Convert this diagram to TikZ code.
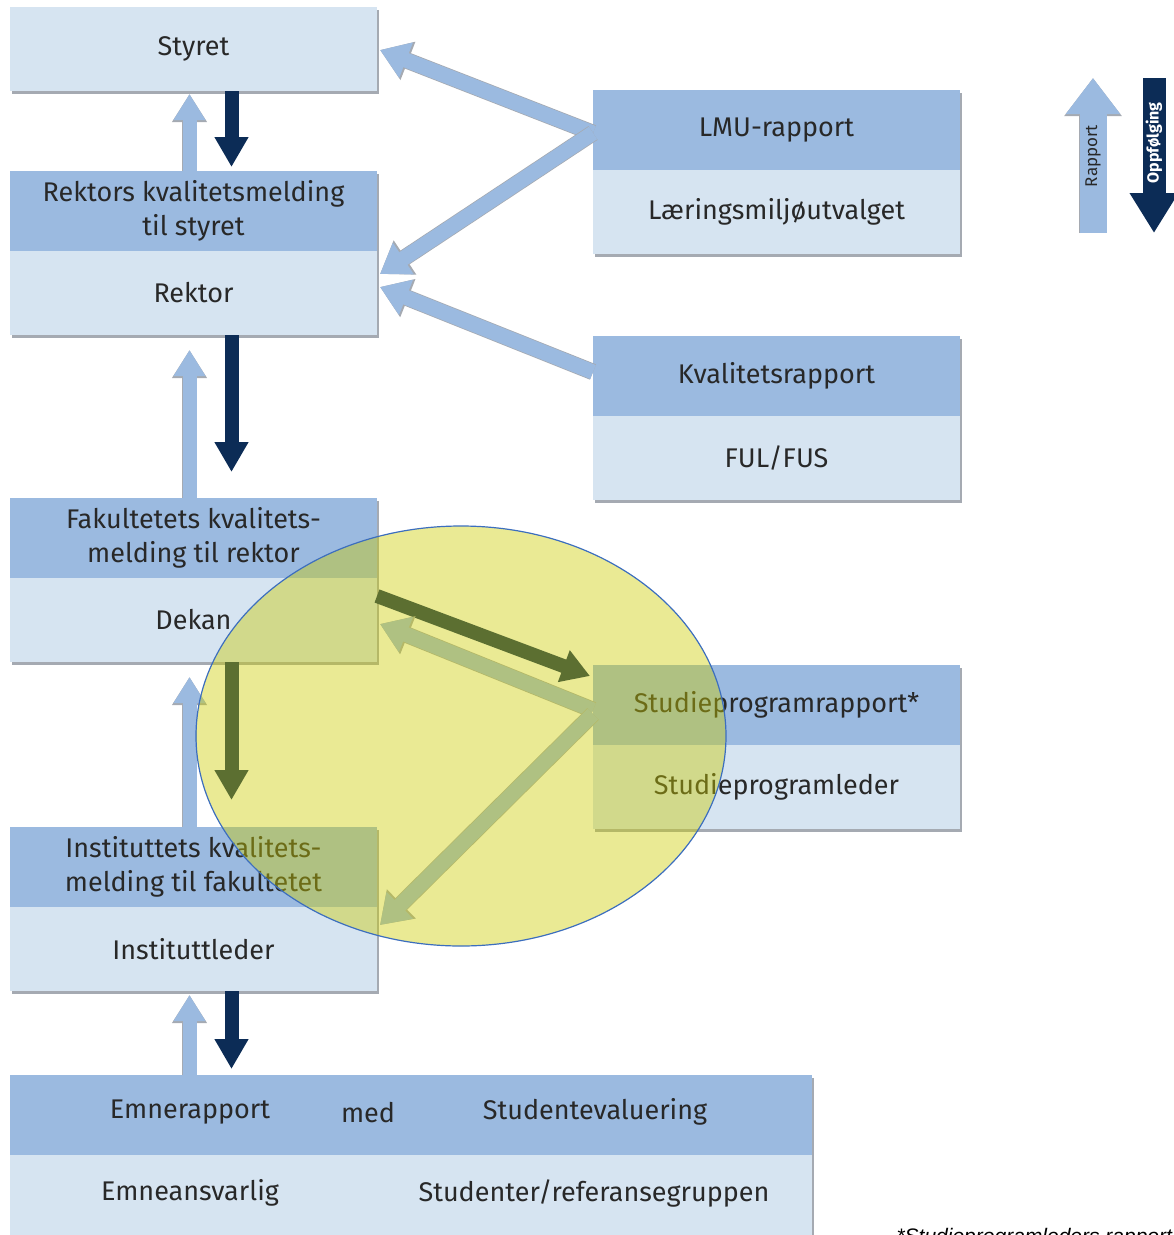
\documentclass[tikz,border=0pt]{standalone}
\usepackage{fontspec}
\setmainfont{Fira Sans}
\newfontfamily\notefont{Liberation Sans}
\usetikzlibrary{positioning,arrows.meta,shadows}

\definecolor{hdrblue}{RGB}{155,186,224}
\definecolor{bodyblue}{RGB}{214,228,241}
\definecolor{navy}{RGB}{12,44,86}
\definecolor{txtgray}{RGB}{40,40,40}
\definecolor{edgegray}{RGB}{165,170,178}
\definecolor{markyellow}{RGB}{204,204,0}
\definecolor{ringblue}{RGB}{60,110,190}

\begin{document}
\begin{tikzpicture}[x=1pt, y=-1pt,
  every node/.style={font=\fontsize{27}{34}\selectfont, text=txtgray},
  hdr/.style={fill=hdrblue, minimum width=367pt, minimum height=80pt, inner sep=0pt, outer sep=0pt, align=center,
    drop shadow={shadow xshift=2pt, shadow yshift=-3pt, fill=edgegray, opacity=1}},
  body/.style={hdr, fill=bodyblue, minimum height=84pt},
  up/.style={draw=hdrblue, line width=14pt, -{Triangle[width=30pt,length=26pt]},
    preaction={draw=edgegray, line width=15.5pt, -{Triangle[width=33pt,length=28pt]}}},
  down/.style={draw=navy, line width=14pt, -{Triangle[width=32pt,length=30pt]}},
  rapport/.style={draw=hdrblue, line width=15pt, -{Triangle[width=36pt,length=28pt]},
    preaction={draw=edgegray, line width=16.5pt, -{Triangle[width=39pt,length=30pt]}}},
  oppf/.style={draw=navy, line width=14pt, -{Triangle[width=32pt,length=28pt]}}]
\useasboundingbox (0,0) rectangle (1174,1235);
\clip (0,0) rectangle (1174,1235);

% left column
\node[body] (styret) at (193.5,49) {Styret};
\node[hdr] (rekhdr) at (193.5,211) {Rektors kvalitetsmelding\\til styret};
\node[body, below=0pt of rekhdr] (rek) {Rektor};
\node[hdr] (fakhdr) at (193.5,538) {Fakultetets kvalitets-\\melding til rektor};
\node[body, below=0pt of fakhdr] (fak) {Dekan};
\node[hdr] (insthdr) at (193.5,867) {Instituttets kvalitets-\\melding til fakultetet};
\node[body, below=0pt of insthdr] (inst) {Instituttleder};

% right column
\node[hdr] (lmuhdr) at (776.5,130) {LMU-rapport};
\node[body, below=0pt of lmuhdr] (lmu) {Læringsmiljøutvalget};
\node[hdr] (kvalhdr) at (776.5,376) {Kvalitetsrapport};
\node[body, below=0pt of kvalhdr] (kval) {FUL/FUS};
\node[hdr] (studhdr) at (776.5,705) {Studieprogramrapport*};
\node[body, below=0pt of studhdr] (stud) {Studieprogramleder};

% bottom box
\node[hdr, minimum width=802pt] (emnehdr) at (411,1115) {};
\node[body, minimum width=802pt, below=0pt of emnehdr] (emne) {};
\node (emnerap) at (190,1112) {Emnerapport};
\node (med) at (368,1113) {med};
\node (studev) at (595,1112) {Studentevaluering};
\node (emneans) at (190,1193) {Emneansvarlig};
\node (studref) at (594,1193) {Studenter/referansegruppen};

% up and down between the levels
\draw[up, shorten >=3pt] ([xshift=-4pt]rekhdr.north) -- ([xshift=-4pt]styret.south);
\draw[down, shorten >=4pt] ([xshift=38pt]styret.south) -- ([xshift=38pt]rekhdr.north);
\draw[up, shorten >=15pt] ([xshift=-4pt]fakhdr.north) -- ([xshift=-4pt]rek.south);
\draw[down, shorten >=26pt] ([xshift=38pt]rek.south) -- ([xshift=38pt]fakhdr.north);
\draw[up, shorten >=15pt] ([xshift=-4pt]insthdr.north) -- ([xshift=-4pt]fak.south);
\draw[down, shorten >=27pt] ([xshift=38pt]fak.south) -- ([xshift=38pt]insthdr.north);
\draw[up, shorten >=4pt] ([xshift=-4pt]emnehdr.north -| insthdr.north) -- ([xshift=-4pt]inst.south);
\draw[down, shorten >=6pt] ([xshift=38pt]inst.south) -- ([xshift=38pt]emnehdr.north -| inst.south);

% reports from the right column
\draw[rapport] ([yshift=-3pt]lmuhdr.west) -- ([xshift=3pt,yshift=-1pt]styret.east);
\draw[rapport] ([yshift=-3pt]lmuhdr.west) -- ([xshift=3pt,yshift=19pt]rek.east);
\draw[rapport] ([yshift=4pt]kvalhdr.west) -- ([xshift=3pt,yshift=6pt]rek.east);
\draw[oppf] ([yshift=24pt]fak.east) -- ([xshift=-3pt,yshift=29pt]studhdr.west);
\draw[rapport] ([yshift=-5pt]studhdr.west) -- ([xshift=3pt,yshift=-4pt]fak.east);
\draw[rapport] ([yshift=-9pt]studhdr.west) -- ([xshift=3pt,yshift=24pt]inst.east);

% legend
\coordinate (rapbot) at (1093,233);
\coordinate (raptop) at (1093,78);
\coordinate (oppftop) at (1154,78);
\coordinate (oppfbot) at (1154,233);
\draw[draw=hdrblue, line width=27pt, -{Triangle[width=52pt,length=36pt]},
  preaction={draw=edgegray, line width=28.5pt, -{Triangle[width=55pt,length=38pt]}}] (rapbot) -- (raptop);
\draw[draw=navy, line width=23pt, -{Triangle[width=46pt,length=40pt]}] (oppftop) -- (oppfbot);
\node[rotate=90, font=\fontsize{17}{18}\selectfont] (raptxt) at (1093,156) {Rapport};
\node[rotate=90, text=white, font=\bfseries\fontsize{16}{18}\selectfont] (oppftxt) at (1154,143) {Oppfølging};

% marked area
\draw[ringblue, line width=1.2pt, fill=markyellow, fill opacity=.42] (461,736) ellipse [x radius=265, y radius=210];

% footnote
\node[anchor=base west, text=black, font=\notefont\itshape\fontsize{21}{25}\selectfont] (fotnote) at (893,1243) {*Studieprogramleders rapport};
\end{tikzpicture}
\end{document}
